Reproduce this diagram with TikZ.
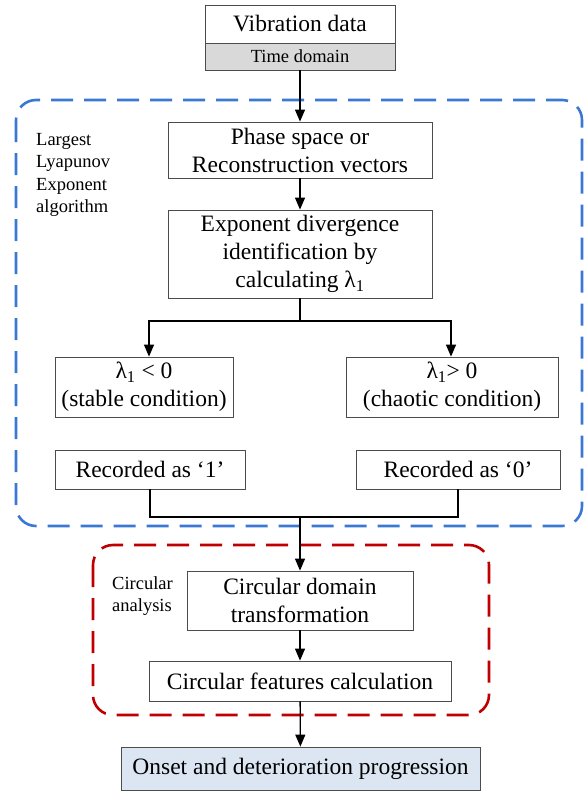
\documentclass[tikz,border=0pt]{standalone}
\usepackage{fontspec}
\setmainfont{Liberation Serif}
\usetikzlibrary{arrows.meta}
\definecolor{lleblue}{RGB}{58,120,212}
\definecolor{circred}{RGB}{192,0,0}
\definecolor{onsetfill}{RGB}{220,230,242}
\begin{document}
\begin{tikzpicture}[x=1pt,y=-1pt,
		box/.style={draw=black!70,line width=.8pt,align=center,inner sep=0pt,
			font=\fontsize{23.5}{28}\selectfont},
		lbl/.style={anchor=north west,align=left,inner sep=0pt,
			font=\fontsize{18.5}{22.5}\selectfont},
		arr/.style={line width=1.3pt,-{Triangle[length=12pt,width=10pt]}},
		con/.style={line width=1.3pt},
		frame/.style={line width=2.6pt,dash pattern=on 22pt off 11pt,rounded corners=20pt}]
			\useasboundingbox (0,0) rectangle (584,792);
			% dashed frames
			\draw[frame,lleblue] (16,100) rectangle (582,526);
			\draw[frame,circred] (93,545) rectangle (489,715);
			\node[lbl] (llelbl) at (36,133) {Largest\\Lyapunov\\Exponent\\algorithm};
			\node[lbl] (circlbl) at (112,576) {Circular\\analysis};
			% boxes
			\node[box,minimum width=190pt,minimum height=38pt] (vib) at (300,24) {Vibration data};
			\node[box,fill=black!15,minimum width=190pt,minimum height=27pt,
				font=\fontsize{18.5}{22}\selectfont] (tdom) at (300,56.5) {Time domain};
			\node[box,minimum width=264pt,minimum height=56pt] (phase) at (300,150) {Phase space or\\Reconstruction vectors};
			\node[box,minimum width=264pt,minimum height=88pt] (expo) at (300,254) {Exponent divergence\\identification by\\calculating λ\textsubscript{1}};
			\node[box,minimum width=178pt,minimum height=60pt] (stab) at (144,387) {λ\textsubscript{1} < 0\\(stable condition)};
			\node[box,minimum width=212pt,minimum height=60pt] (chao) at (452,387) {λ\textsubscript{1}> 0\\(chaotic condition)};
			\node[box,minimum width=190pt,minimum height=39pt] (rec1) at (150,469.5) {Recorded as ‘1’};
			\node[box,minimum width=204pt,minimum height=39pt] (rec0) at (458,469.5) {Recorded as ‘0’};
			\node[box,minimum width=226pt,minimum height=59pt] (cdom) at (300,600.5) {Circular domain\\transformation};
			\node[box,minimum width=302pt,minimum height=40pt] (cfeat) at (300,681) {Circular features calculation};
			\node[box,fill=onsetfill,minimum width=359pt,minimum height=43pt] (onset) at (300.5,768.5) {Onset and deterioration progression};
			% connectors
			\coordinate (brl) at (149,321);
			\coordinate (brr) at (451,321);
			\coordinate (jn) at (300,517);
			\draw[arr] (tdom) -- (phase);
			\draw[arr] (phase) -- (expo);
			\draw[arr] (expo.south) |- (brl) -- (brl |- stab.north);
			\draw[arr] (expo.south) |- (brr) -- (brr |- chao.north);
			\draw[con] (rec1.south) |- (jn) -| (rec0.south);
			\draw[arr] (jn) -- (cdom);
			\draw[arr] (cdom) -- (cfeat);
			\draw[arr] (cfeat) -- (onset);
		\end{tikzpicture}
\end{document}
